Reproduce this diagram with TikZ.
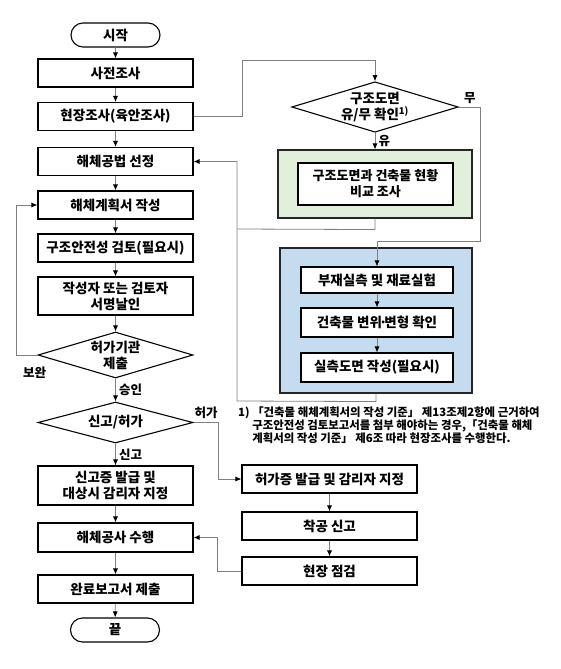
\documentclass[tikz,border=0pt]{standalone}
\usepackage{fontspec}
\setmainfont{Noto Sans CJK KR}
\usetikzlibrary{shapes.geometric,shapes.misc,arrows.meta}
\definecolor{linegray}{HTML}{7F7F7F}
\definecolor{greenfill}{HTML}{E2EFDA}
\definecolor{bluefill}{HTML}{C5DCF0}
\tikzset{
	box/.style={draw=black, line width=1.1pt, fill=white, minimum width=155pt, minimum height=28pt, inner sep=0pt, align=center, font=\fontsize{13.5}{16}\selectfont\bfseries},
	term/.style={box, rounded rectangle, minimum width=89pt, minimum height=24pt},
	dec/.style={box, diamond, minimum height=46pt, aspect=3.3},
	panel/.style={draw=black!85, line width=1.1pt, inner sep=0pt},
	lbl/.style={font=\fontsize{12.5}{14}\selectfont\bfseries},
	flow/.style={draw=linegray, line width=0.8pt, -{Latex[length=6pt,width=5pt,color=black]}},
	link/.style={draw=linegray, line width=0.8pt}
}
\begin{document}
\begin{tikzpicture}[x=1pt,y=-1pt]
	\useasboundingbox (0,0) rectangle (560,669);
	\node[term] (start) at (115.5,35) {시작};
	\node[box] (survey) at (115.5,73) {사전조사};
	\node[box] (site) at (115.5,116.5) {현장조사(육안조사)};
	\node[box] (method) at (115.5,161.5) {해체공법 선정};
	\node[box] (plan) at (115.5,205) {해체계획서 작성};
	\node[box] (safety) at (115.5,248) {구조안전성 검토(필요시)};
	\node[box,minimum height=38pt] (sign) at (115.5,296) {작성자 또는 검토자\\서명날인};
	\node[dec] (submit) at (115.5,355) {허가기관\\제출};
	\node[dec,minimum height=41pt] (permit) at (115.5,422.5) {신고/허가};
	\node[box,minimum height=39pt] (report) at (115.5,485.5) {신고증 발급 및\\대상시 감리자 지정};
	\node[box,minimum height=29pt] (work) at (115.5,537.5) {해체공사 수행};
	\node[box] (done) at (115.5,589) {완료보고서 제출};
	\node[term] (finish) at (115,630) {끝};

	\node[dec,minimum width=166pt,minimum height=48pt] (drawing) at (375,107) {구조도면\\유/무 확인\textsuperscript{1)}};
	\node[panel,fill=greenfill,minimum width=194pt,minimum height=68pt] (gpanel) at (375,184) {};
	\node[box,minimum height=42pt,font=\fontsize{13}{16}\selectfont\bfseries] (compare) at (375.5,184) {구조도면과 건축물 현황\\비교 조사};
	\node[panel,fill=bluefill,minimum width=192pt,minimum height=145pt] (bpanel) at (376,320.5) {};
	\node[box,minimum width=152pt,minimum height=26pt] (member) at (377,280) {부재실측 및 재료실험};
	\node[box,minimum width=152pt,minimum height=29pt] (deform) at (377,322.5) {건축물 변위\kern-.22em·\kern-.22em변형 확인};
	\node[box,minimum width=152pt,minimum height=29pt] (measure) at (377,367.5) {실측도면 작성(필요시)};
	\node[anchor=north west,inner sep=0pt,align=left,font=\fontsize{11.4}{13}\selectfont\bfseries] (note) at (238,407) {1) 「건축물 해체계획서의 작성 기준」 제13조제2항에 근거하여\\\phantom{1) }구조안전성 검토보고서를 첨부 해야하는 경우,「건축물 해체\\\phantom{1) }계획서의 작성 기준」 제6조 따라 현장조사를 수행한다.};

	\node[box,minimum width=175pt] (license) at (329.5,479) {허가증 발급 및 감리자 지정};
	\node[box,minimum width=175pt] (notify) at (329.5,526) {착공 신고};
	\node[box,minimum width=175pt] (check) at (329.5,571) {현장 점검};

	\coordinate (join) at (237,229);
	\coordinate (bus) at (237,401);

	\draw[flow] (start) -- (survey);
	\draw[flow] (survey) -- (site);
	\draw[flow] (site) -- (method);
	\draw[flow] (method) -- (plan);
	\draw[flow] (plan) -- (safety);
	\draw[flow] (safety) -- (sign);
	\draw[flow] (sign) -- (submit);
	\draw[flow] (submit) -- node[lbl,right] {승인} (permit);
	\draw[flow] (permit) -- node[lbl,right] {신고} (report);
	\draw[flow] (report) -- (work);
	\draw[flow] (work) -- (done);
	\draw[flow] (done) -- (finish);
	\draw[flow] (submit.west) -- ++(-21,0) node[lbl,anchor=north west,xshift=3pt,yshift=-8pt] {보완} |- (plan.west);
	\draw[flow] (permit.east) -- node[lbl,above] {허가} ++(25,0) |- (license.west);
	\draw[flow] (license) -- (notify);
	\draw[flow] (notify) -- (check);
	\draw[flow] (check.west) -- ++(-24,0) |- (work.east);

	\draw[flow] (site.east) -- ++(49,0) |- ([yshift=21pt]drawing.north) -- (drawing.north);
	\draw[flow] (drawing) -- node[lbl,right] {유} (gpanel);
	\draw[flow] (drawing.east) -- node[lbl,above] {무} ++(22,0) |- ([yshift=25pt]member.north) -- (member.north);
	\draw[flow] (member) -- (deform);
	\draw[flow] (deform) -- (measure);
	\draw[link] (gpanel.south) -- ++(0,11) -- (join);
	\draw[flow] (bpanel.south) -- ++(0,8) -- (bus) |- (method.east);
\end{tikzpicture}
\end{document}
